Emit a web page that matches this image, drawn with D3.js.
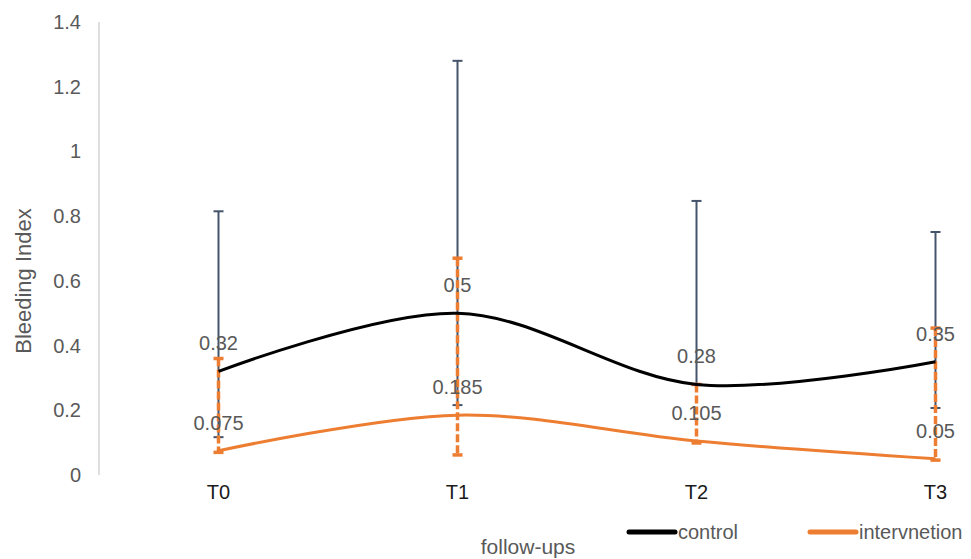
<!DOCTYPE html>
<meta charset="utf-8">
<title>Bleeding Index</title>
<style>
body { margin: 0; background: #fff; }
svg { font-family: Arial, "Liberation Sans", sans-serif; }
</style>
<svg width="971" height="559"></svg>
<script src="https://d3js.org/d3.v7.min.js"></script>
<script>
var categories = ['T0', 'T1', 'T2', 'T3']
var controlMean = [0.32, 0.5, 0.28, 0.35]
var controlHigh = [0.815, 1.28, 0.847, 0.751]
var controlLow = [0.117, 0.216, 0.28, 0.207]
var interMean = [0.075, 0.185, 0.105, 0.05]
var interHigh = [0.36, 0.67, 0.28, 0.454]
var interLow = [0.07, 0.062, 0.099, 0.046]
var yTicks = [0, 0.2, 0.4, 0.6, 0.8, 1, 1.2, 1.4]

var svg = d3.select("svg")

var x = d3.scaleBand().domain(categories).range([99, 1055])
var y = d3.scaleLinear().domain([0, 1.4]).range([475, 22])
function cx(d, i) { return x(categories[i]) + x.bandwidth() / 2 }

// y axis
svg.append("line")
	.attr("x1", 99).attr("x2", 99)
	.attr("y1", y(1.4)).attr("y2", y(0))
	.attr("stroke", "#bfbfbf")

svg.append("g").selectAll("text")
	.data(yTicks)
	.enter().append("text")
		.attr("x", 81)
		.attr("y", function(d) { return y(d) })
		.attr("dy", "0.35em")
		.attr("text-anchor", "end")
		.attr("fill", "#595959")
		.attr("font-size", 20)
		.text(function(d) { return d })

svg.append("text")
	.attr("transform", "translate(31,281) rotate(-90)")
	.attr("text-anchor", "middle")
	.attr("fill", "#595959")
	.attr("font-size", 22)
	.text("Bleeding Index")

// x labels
svg.append("g").selectAll("text")
	.data(categories)
	.enter().append("text")
		.attr("x", function(d) { return x(d) + x.bandwidth() / 2 })
		.attr("y", 499)
		.attr("text-anchor", "middle")
		.attr("fill", "#1a1a1a")
		.attr("font-size", 20)
		.text(function(d) { return d })

svg.append("text")
	.attr("x", 528).attr("y", 554)
	.attr("text-anchor", "middle")
	.attr("fill", "#595959")
	.attr("font-size", 21)
	.text("follow-ups")

// error bars
function errorBars(high, low, color, width, dash) {
	var g = svg.append("g")
	g.selectAll("line.v")
		.data(high)
		.enter().append("line")
			.attr("x1", cx).attr("x2", cx)
			.attr("y1", function(d) { return y(d) })
			.attr("y2", function(d, i) { return y(low[i]) })
			.attr("stroke", color)
			.attr("stroke-width", width)
			.attr("stroke-dasharray", dash)
	var caps = high.concat(low)
	g.selectAll("line.c")
		.data(caps)
		.enter().append("line")
			.attr("x1", function(d, i) { return cx(d, i % 4) - 5 })
			.attr("x2", function(d, i) { return cx(d, i % 4) + 5 })
			.attr("y1", function(d) { return y(d) })
			.attr("y2", function(d) { return y(d) })
			.attr("stroke", color)
			.attr("stroke-width", width)
}
errorBars(controlHigh, controlLow, "#44546a", 2, null)
errorBars(interHigh, interLow, "#ed7d31", 3.5, "8,3")

// lines
var line = d3.line()
	.x(cx)
	.y(function(d) { return y(d) })
	.curve(d3.curveCatmullRom.alpha(0.5))

svg.append("path").datum(controlMean)
	.attr("d", line).attr("fill", "none")
	.attr("stroke", "#000").attr("stroke-width", 3)
svg.append("path").datum(interMean)
	.attr("d", line).attr("fill", "none")
	.attr("stroke", "#ed7d31").attr("stroke-width", 3)

// data labels
function labels(vals) {
	svg.append("g").selectAll("text")
		.data(vals)
		.enter().append("text")
			.attr("x", cx)
			.attr("y", function(d) { return y(d) - 21 })
			.attr("text-anchor", "middle")
			.attr("fill", "#595959")
			.attr("font-size", 20)
			.text(function(d) { return d })
}
labels(controlMean)
labels(interMean)

// legend
var legend = [
	{name: "control", color: "#000", x: 629},
	{name: "intervnetion", color: "#ed7d31", x: 810}
]
legend.forEach(function(l) {
	svg.append("line")
		.attr("x1", l.x).attr("x2", l.x + 46)
		.attr("y1", 532).attr("y2", 532)
		.attr("stroke", l.color).attr("stroke-width", 5)
		.attr("stroke-linecap", "round")
	svg.append("text")
		.attr("x", l.x + 49).attr("y", 539)
		.attr("fill", "#595959")
		.attr("font-size", 20)
		.text(l.name)
})
</script>
